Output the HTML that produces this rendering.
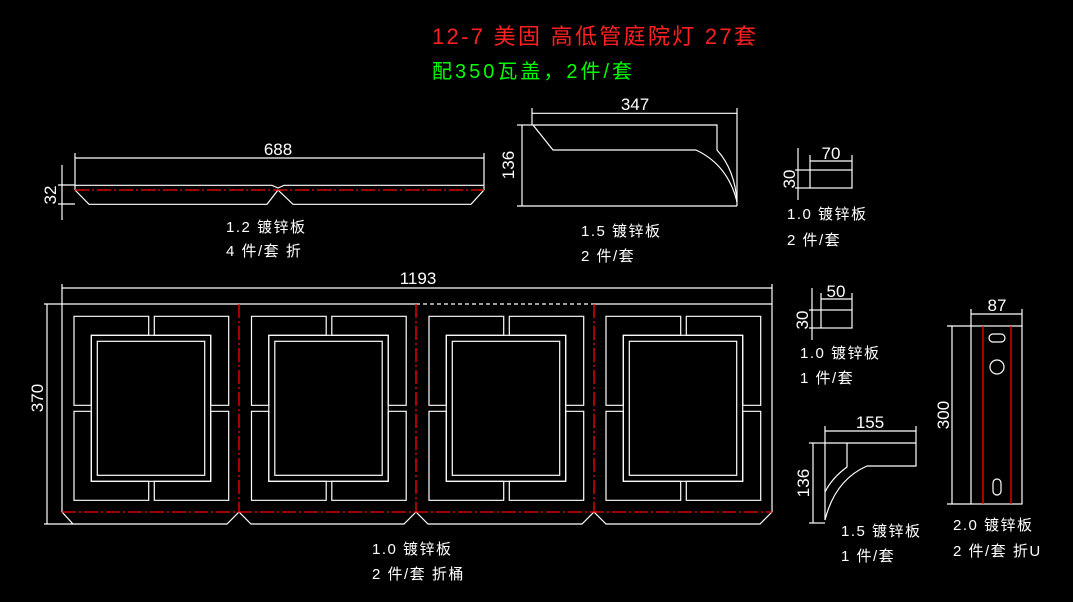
<!DOCTYPE html>
<html><head><meta charset="utf-8"><style>
html,body{margin:0;padding:0;background:#000;}
svg{display:block}
text{font-family:"Liberation Sans","Noto Sans CJK SC",sans-serif;fill:#fff;}
</style></head><body>
<svg width="1073" height="602" viewBox="0 0 1073 602" xmlns="http://www.w3.org/2000/svg">
<rect width="1073" height="602" fill="#000"/>
<defs>
<g id="pn" fill="none" stroke="#fff" stroke-width="1.2">
<path d="M86.7,316.3 H12 V405.3 H29.3 V335.3 H86.7 Z"/>
<path d="M92.3,316.3 H166.7 V405.3 H148.7 V335.3 H92.3 Z"/>
<path d="M29.3,411.3 H12 V500.3 H86.7 V481.3 H29.3 Z"/>
<path d="M148.7,411.3 H166.7 V500.3 H92.3 V481.3 H148.7 Z"/>
<rect x="29.3" y="335.3" width="119.4" height="146"/>
<rect x="35.3" y="341.3" width="107.4" height="134"/>
</g>
</defs>
<!-- titles -->
<text x="432" y="44" font-size="22" letter-spacing="2.3" style="fill:#ff2020">12-7 美固 高低管庭院灯 27套</text>
<text x="432" y="78" font-size="20" letter-spacing="3" style="fill:#00ff00">配350瓦盖，2件/套</text>

<g fill="none" stroke="#fff" stroke-width="1.2">
<!-- 688 part -->
<line x1="75" y1="158" x2="484" y2="158"/>
<line x1="75" y1="153" x2="75" y2="190"/><line x1="484" y1="153" x2="484" y2="190"/>
<path d="M75,185.3 H272 L278,188 L284,185.3 H484"/>
<path d="M75,190 L89,204.3 H267 L278,190 L293,204.3 H471 L484,190"/>
<line x1="62" y1="165" x2="62" y2="220"/>
<line x1="58" y1="185" x2="75" y2="185"/><line x1="58" y1="204" x2="75" y2="204"/>
<!-- 347 part -->
<line x1="532" y1="113.3" x2="737" y2="113.3"/>
<line x1="532" y1="108" x2="532" y2="125"/><line x1="737" y1="108" x2="737" y2="206"/>
<path d="M533,125 H717 V150 Q735,170 737,202"/>
<path d="M533,125 L553,150 H696 Q728,165 737,202"/>
<line x1="517" y1="206" x2="737" y2="206"/>
<line x1="522" y1="125" x2="522" y2="206"/><line x1="517" y1="125" x2="533" y2="125"/>
<!-- 70 part -->
<rect x="810" y="170" width="42" height="18"/>
<line x1="810" y1="161" x2="852" y2="161"/><line x1="810" y1="155" x2="810" y2="170"/><line x1="852" y1="155" x2="852" y2="170"/>
<line x1="798" y1="148" x2="798" y2="200"/><line x1="795" y1="170" x2="810" y2="170"/><line x1="795" y1="188" x2="810" y2="188"/>
<!-- 50 part -->
<rect x="821" y="310" width="31" height="18"/>
<line x1="821" y1="299" x2="852" y2="299"/><line x1="821" y1="293" x2="821" y2="310"/><line x1="852" y1="293" x2="852" y2="310"/>
<line x1="812" y1="288" x2="812" y2="340"/><line x1="809" y1="310" x2="821" y2="310"/><line x1="809" y1="328" x2="821" y2="328"/>
<!-- 155 part -->
<line x1="825" y1="431" x2="916" y2="431"/><line x1="825" y1="426" x2="825" y2="443"/><line x1="916" y1="426" x2="916" y2="443"/>
<path d="M825,443 H916 V466 H867 Q835,480 825,520 Z"/>
<path d="M847,443 V467 Q832,478 825,492"/>
<line x1="813" y1="443" x2="813" y2="523"/><line x1="809" y1="443" x2="825" y2="443"/><line x1="809" y1="523" x2="825" y2="523"/>
<!-- 87 part -->
<rect x="971" y="326" width="51" height="178"/>
<rect x="989" y="334" width="16" height="8" rx="4"/>
<circle cx="997" cy="367" r="7"/>
<rect x="993" y="479" width="8" height="16" rx="4"/>
<line x1="971" y1="314" x2="1022" y2="314"/><line x1="971" y1="309" x2="971" y2="326"/><line x1="1022" y1="309" x2="1022" y2="326"/>
<line x1="952" y1="326" x2="952" y2="504"/><line x1="947" y1="326" x2="971" y2="326"/><line x1="947" y1="504" x2="971" y2="504"/>
<!-- main panel -->
<line x1="62" y1="288" x2="772" y2="288"/>
<line x1="62" y1="284" x2="62" y2="512"/><line x1="772" y1="284" x2="772" y2="512"/>
<line x1="62" y1="304" x2="416" y2="304"/><line x1="594" y1="304" x2="772" y2="304"/>
<line x1="416" y1="304" x2="594" y2="304" stroke-dasharray="4,3"/>
<line x1="47" y1="304" x2="47" y2="524"/><line x1="44" y1="304" x2="62" y2="304"/><line x1="44" y1="524" x2="73" y2="524"/>
<path d="M62,512 L73,524 H227 L239,512 L251,524 H404 L416,512 L428,524 H582 L594,512 L606,524 H760 L772,512"/>
</g>
<use href="#pn" x="62"/><use href="#pn" x="239.5"/><use href="#pn" x="417"/><use href="#pn" x="594"/>
<g stroke="#ff0000" stroke-width="1.3" fill="none">
<line x1="75" y1="190" x2="484" y2="190" stroke-dasharray="14,3,2,3"/>
<line x1="62" y1="512" x2="772" y2="512" stroke-dasharray="14,3,2,3"/>
<line x1="239" y1="304" x2="239" y2="512" stroke-dasharray="14,3,2,3"/>
<line x1="416" y1="304" x2="416" y2="512" stroke-dasharray="14,3,2,3"/>
<line x1="594" y1="304" x2="594" y2="512" stroke-dasharray="14,3,2,3"/>
<line x1="983" y1="326" x2="983" y2="504"/>
<line x1="1011" y1="326" x2="1011" y2="504"/>
</g>
<!-- dims text -->
<g font-size="17">
<text x="278" y="155" text-anchor="middle">688</text>
<text x="635" y="110" text-anchor="middle">347</text>
<text x="831" y="159" text-anchor="middle">70</text>
<text x="836" y="297" text-anchor="middle">50</text>
<text x="870" y="428" text-anchor="middle">155</text>
<text x="997" y="311" text-anchor="middle">87</text>
<text x="418" y="284" text-anchor="middle">1193</text>
<text transform="translate(56,195) rotate(-90)" text-anchor="middle">32</text>
<text transform="translate(514,165) rotate(-90)" text-anchor="middle">136</text>
<text transform="translate(795,179) rotate(-90)" text-anchor="middle">30</text>
<text transform="translate(808,320) rotate(-90)" text-anchor="middle">30</text>
<text transform="translate(809,483) rotate(-90)" text-anchor="middle">136</text>
<text transform="translate(949,415) rotate(-90)" text-anchor="middle">300</text>
<text transform="translate(43,398) rotate(-90)" text-anchor="middle">370</text>
</g>
<g font-size="15" letter-spacing="1.5">
<text x="226" y="232">1.2 镀锌板</text>
<text x="226" y="256">4 件/套 折</text>
<text x="581" y="236">1.5 镀锌板</text>
<text x="581" y="261">2 件/套</text>
<text x="787" y="219">1.0 镀锌板</text>
<text x="787" y="245">2 件/套</text>
<text x="800" y="358">1.0 镀锌板</text>
<text x="800" y="383">1 件/套</text>
<text x="841" y="536">1.5 镀锌板</text>
<text x="841" y="561">1 件/套</text>
<text x="953" y="530">2.0 镀锌板</text>
<text x="953" y="556">2 件/套 折U</text>
<text x="372" y="554">1.0 镀锌板</text>
<text x="372" y="579">2 件/套 折桶</text>
</g>
</svg>
</body></html>
